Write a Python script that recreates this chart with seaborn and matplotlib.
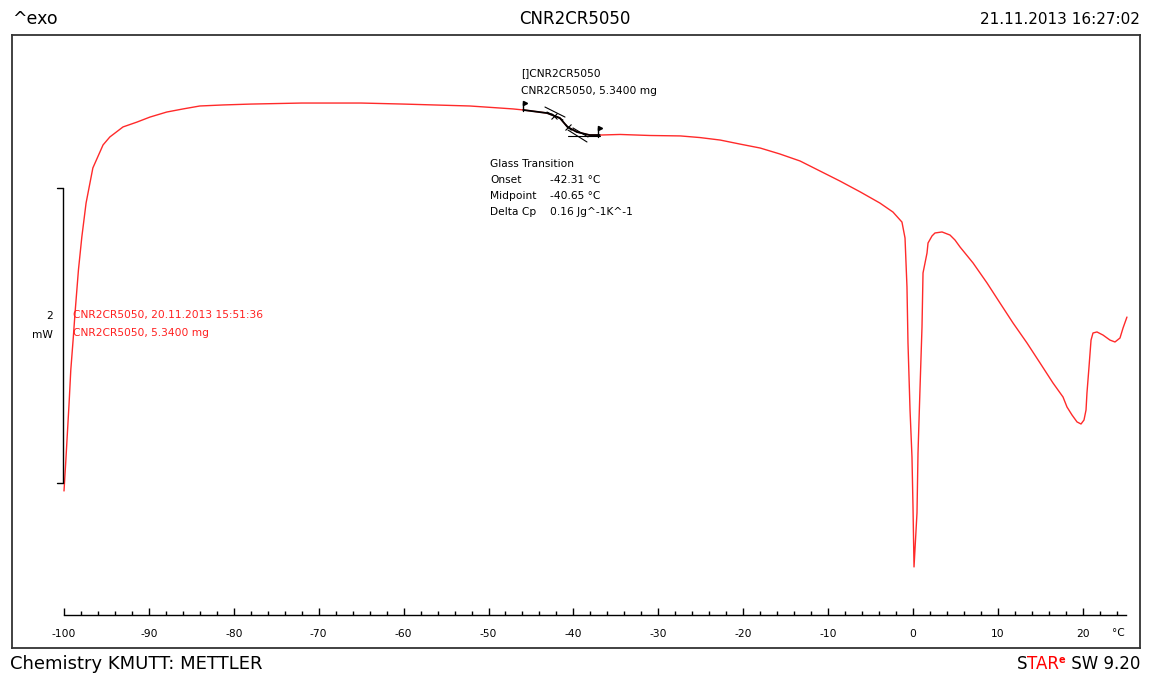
import matplotlib
matplotlib.use("Agg")
import matplotlib.pyplot as plt
import seaborn as sns
import numpy as np
import pandas as pd

# ---------------- data ----------------
temperature_c = [
    -100.0, -99.8, -99.4, -99.2, -98.9, -98.7, -98.3, -97.9, -97.4, -96.6,
    -95.4, -94.6, -93.05, -91.4, -89.87, -87.9, -85.98, -84.0, -81.27, -78.0,
    -72.0, -65.0, -60.0, -52.2, -48.6, -47.1, -45.9, -43.1, -41.6, -40.7,
    -39.6, -38.1, -36.9, -34.5, -31.0, -27.4, -25.1, -22.7, -20.4, -18.0,
    -15.7, -13.3, -10.95, -8.6, -6.2, -3.9, -2.36, -1.30, -0.94, -0.71,
    -0.59, -0.35, -0.12, 0.0, 0.12, 0.47, 0.59, 0.82, 1.06, 1.18,
    1.65, 1.77, 2.24, 2.59, 3.42, 4.36, 4.95, 5.54, 7.07, 8.72,
    10.25, 11.78, 13.43, 14.96, 16.49, 17.67, 18.14, 18.73, 19.32, 19.79,
    20.14, 20.38, 20.49, 20.73, 20.97, 21.20, 21.67, 22.38, 23.20, 23.79,
    24.38, 24.74, 25.20,
]
heat_flow_mw = [
    -0.054, 0.136, 0.542, 0.766, 0.990, 1.153, 1.444, 1.668, 1.898, 2.136,
    2.292, 2.346, 2.414, 2.447, 2.481, 2.515, 2.536, 2.556, 2.563, 2.569,
    2.576, 2.576, 2.569, 2.556, 2.542, 2.536, 2.529, 2.508, 2.475, 2.414,
    2.380, 2.359, 2.359, 2.363, 2.356, 2.353, 2.342, 2.325, 2.298, 2.271,
    2.231, 2.183, 2.115, 2.047, 1.973, 1.898, 1.837, 1.769, 1.661, 1.329,
    0.949, 0.495, 0.176, -0.163, -0.569, -0.203, 0.203, 0.631, 1.058, 1.424,
    1.559, 1.627, 1.675, 1.695, 1.702, 1.681, 1.647, 1.600, 1.492, 1.356,
    1.220, 1.085, 0.949, 0.814, 0.678, 0.583, 0.515, 0.461, 0.414, 0.400,
    0.427, 0.495, 0.610, 0.786, 0.969, 1.017, 1.024, 1.003, 0.969, 0.956,
    0.983, 1.051, 1.125,
]

# glass transition evaluation
gt_range = (-46.9, -36.9)
gt_onset = -42.31
gt_midpoint = -40.65
gt_delta_cp = 0.16
gt_flags_t = [-45.9, -37.1]
tangent_lines_t = [[-43.35, -40.99], [-43.11, -41.23], [-40.64, -38.40], [-40.05, -38.28], [-40.64, -36.87]]
tangent_lines_mw = [[2.549, 2.481], [2.515, 2.461], [2.393, 2.312], [2.407, 2.346], [2.353, 2.353]]

major_ticks = list(range(-100, 21, 10))
minor_ticks = list(range(-100, 25, 2))
scale_bar_mw = [0.0, 2.0]

sample = "CNR2CR5050"
sample_date = "20.11.2013 15:51:36"
sample_mass = "5.3400 mg"
print_date = "21.11.2013 16:27:02"

df = pd.DataFrame({"T": temperature_c, "mW": heat_flow_mw})

# ---------------- figure ----------------
W, H = 1154, 678
sns.set_style("white")
plt.rcParams["font.family"] = ["DejaVu Sans"]
plt.rcParams["text.color"] = "black"
plt.rcParams["xtick.color"] = "black"
plt.rcParams["xtick.labelcolor"] = "black"
fig = plt.figure(figsize=(W / 100, H / 100), dpi=100)

def fx(px):
    return px / W

def fy(py):
    return 1 - py / H

PX_PER_C = 8.49
PX_PER_MW = 147.5
# main frame axes (pixels 12..1140 x 35..648)
ax = fig.add_axes([fx(12), fy(648), fx(1140) - fx(12), fy(35) - fy(648)])
ax.set_xlim(-100 - (64 - 12) / PX_PER_C, -100 + (1140 - 64) / PX_PER_C)
ax.set_ylim((483 - 648) / PX_PER_MW, (483 - 35) / PX_PER_MW)
for s in ax.spines.values():
    s.set_color("#333333")
    s.set_linewidth(1.3)
    s.set_visible(True)
ax.set_xticks([])
ax.set_yticks([])
ax.set_facecolor("white")

sns.lineplot(data=df, x="T", y="mW", ax=ax, color="#ff2a2a", lw=1.0,
             estimator=None, sort=False, legend=False)
ax.set_xlabel("")
ax.set_ylabel("")

# black evaluated segment
seg = df[(df["T"] >= gt_range[0]) & (df["T"] <= gt_range[1])]
ax.plot(seg["T"], seg["mW"], color="black", lw=1.3, zorder=3)
for tt, mm in zip(tangent_lines_t, tangent_lines_mw):
    ax.plot(tt, mm, color="black", lw=0.8, zorder=3)
on_y = np.interp(gt_onset, temperature_c, heat_flow_mw)
mid_y = np.interp(gt_midpoint, temperature_c, heat_flow_mw)
ax.plot([gt_onset, gt_midpoint], [on_y, mid_y], ls="none", marker="x",
        color="black", ms=4, mew=0.8, zorder=4)
for ft in gt_flags_t:
    fyv = np.interp(ft, temperature_c, heat_flow_mw)
    ax.plot([ft, ft], [fyv - 0.01, fyv + 0.05], color="black", lw=1.0, zorder=4)
    ax.plot([ft + 0.25], [fyv + 0.045], marker=">", color="black", ms=3, zorder=4)

# scale bar
sb_x = -100 - 1 / PX_PER_C
sb_tick = -100 - 7 / PX_PER_C
ax.plot([sb_x, sb_x], scale_bar_mw, color="black", lw=1.0)
for v in scale_bar_mw:
    ax.plot([sb_tick, sb_x], [v, v], color="black", lw=1.0)
ax.text(sb_x - 10 / PX_PER_C, 1.13, "2", ha="right", va="center", fontsize=7.7)
ax.text(sb_x - 10 / PX_PER_C, 1.00, "mW", ha="right", va="center", fontsize=7.7)

# temperature axis
axt = fig.add_axes([fx(64), fy(615), fx(1126) - fx(64), 0.0005])
axt.set_xlim(-100, -100 + (1126 - 64) / PX_PER_C)
axt.patch.set_visible(False)
for k in ["top", "left", "right"]:
    axt.spines[k].set_visible(False)
axt.spines["bottom"].set_visible(True)
axt.spines["bottom"].set_color("black")
axt.spines["bottom"].set_linewidth(1.0)
axt.set_yticks([])
axt.set_xticks(major_ticks)
axt.set_xticklabels([str(t) for t in major_ticks], fontsize=7.7)
axt.set_xticks(minor_ticks, minor=True)
axt.tick_params(axis="x", which="both", bottom=True, top=False, colors="black")
axt.tick_params(axis="x", which="major", direction="in", length=5, width=1.0, pad=10)
axt.tick_params(axis="x", which="minor", direction="in", length=3, width=1.0)
fig.text(fx(1118), fy(633), "°C", ha="center", va="center", fontsize=7.7)

# annotations (black)
small = 7.7
fig.text(fx(521), fy(73), "[]" + sample, ha="left", va="center", fontsize=small)
fig.text(fx(521), fy(91), f"{sample}, {sample_mass}", ha="left", va="center", fontsize=small)
fig.text(fx(490), fy(164), "Glass Transition", ha="left", va="center", fontsize=small)
rows = [("Onset", f"{gt_onset:.2f} °C"), ("Midpoint", f"{gt_midpoint:.2f} °C"),
        ("Delta Cp", f"{gt_delta_cp:.2f} Jg^-1K^-1")]
for i, (lab, val) in enumerate(rows):
    fig.text(fx(490), fy(180 + 16 * i), lab, ha="left", va="center", fontsize=small)
    fig.text(fx(550), fy(180 + 16 * i), val, ha="left", va="center", fontsize=small)

# red curve labels
fig.text(fx(73), fy(315), f"{sample}, {sample_date}", ha="left", va="center",
         fontsize=small, color="#ff2020")
fig.text(fx(73), fy(333), f"{sample}, {sample_mass}", ha="left", va="center",
         fontsize=small, color="#ff2020")

# header
fig.text(fx(12), fy(19), "^exo", ha="left", va="center", fontsize=12.5)
fig.text(fx(575), fy(19), sample, ha="center", va="center", fontsize=12)
fig.text(fx(1140), fy(19), print_date, ha="right", va="center", fontsize=11)

# footer
fig.text(fx(10), fy(664), "Chemistry KMUTT: METTLER", ha="left", va="center", fontsize=13)
t_sw = fig.text(fx(1140), fy(664), " SW 9.20", ha="right", va="center", fontsize=12)
t_e = ax.annotate("e", xy=(0, 1.0), xycoords=t_sw, ha="right", va="top",
                  fontsize=7, color="#ff0000", fontweight="bold", annotation_clip=False)
t_tar = ax.annotate("TAR", xy=(0, 0), xycoords=(t_e, t_sw), ha="right", va="bottom",
                    fontsize=12, color="#ff0000", annotation_clip=False)
ax.annotate("S", xy=(0, 0), xycoords=(t_tar, t_sw), ha="right", va="bottom",
            fontsize=12, color="black", annotation_clip=False)

fig.savefig("out.png", dpi=100, facecolor="white")
